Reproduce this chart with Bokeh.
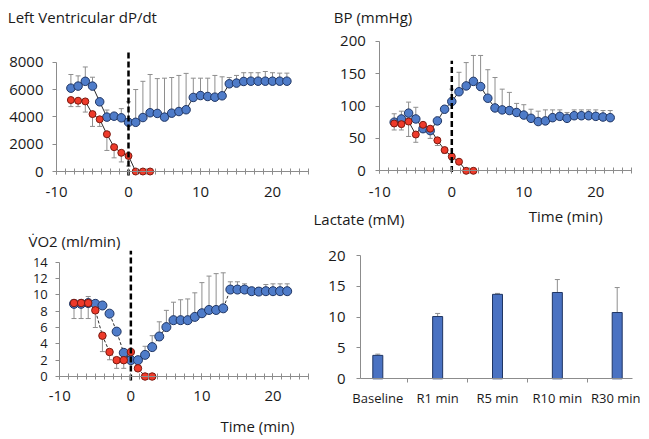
from bokeh.plotting import figure
from bokeh.models import Range1d, FixedTicker, Label
from bokeh.layouts import row, column
from bokeh.embed import file_html
from bokeh.resources import INLINE

# ---------------- data ----------------
time_blue = list(range(-8, 23))
time_red = list(range(-8, 4))

dpdt_blue = [6100, 6250, 6600, 6250, 5100, 3980, 4050, 3930, 3600,
             3600, 3950, 4300, 4250, 3980, 4270, 4390, 4520, 5420, 5560,
             5490, 5440, 5540, 6420, 6470, 6590, 6610, 6610, 6610, 6610, 6610, 6610]
dpdt_blue_hi = [7100, 7000, 7650, 6900, 5100, 4500, 4050, 4600, 5100,
                6000, 6600, 7100, 6800, 6830, 6880, 7030, 7180, 6830, 6830,
                6830, 7030, 6930, 6880, 7030, 7230, 7230, 7230, 7320, 7230, 7200, 7200]
dpdt_red = [5230, 5180, 5130, 4200, 3820, 2730, 1780, 1370, 1140, 0, 0, 0]
dpdt_red_lo = [4750, 4750, 4350, 3300, 3300, 1540, 1000, 700, 400, 0, 0, 0]

bp_blue = [75, 80, 89, 80, 65, 62, 77, 95, 107,
           122, 131, 138, 130, 112, 97, 94, 93, 90, 86,
           81, 76, 77, 82, 84, 81, 85, 85, 85, 84, 83, 82]
bp_blue_hi = [88, 92, 106, 98, 70, 68, 80, 97, 126,
              152, 167, 178, 178, 156, 144, 126, 121, 104, 102,
              95, 92, 94, 94, 94, 90, 94, 94, 94, 94, 93, 93]
bp_red = [73, 72, 76, 56, 71, 65, 47, 32, 22, 14, 0, 0]
bp_red_lo = [63, 63, 53, 44, 60, 50, 39, 27, 17, 14, 0, 0]

vo2_blue = [8.9, 8.9, 9.0, 8.9, 8.7, 7.7, 5.5, 2.9, 2.0,
            2.0, 2.65, 3.6, 4.9, 6.05, 6.9, 6.9, 6.9, 7.3, 7.75,
            8.15, 8.15, 8.35, 10.65, 10.65, 10.65, 10.45, 10.4, 10.45, 10.45, 10.45, 10.45]
vo2_blue_hi = [9.3, 9.3, 9.8, 9.2, 8.9, 7.9, 5.7, 3.2, 2.3,
               2.3, 3.7, 5.0, 6.7, 8.1, 9.1, 9.4, 9.5, 10.25, 11.5,
               12.3, 12.6, 12.7, 11.6, 11.6, 11.35, 10.9, 10.9, 11.27, 11.35, 11.35, 11.35]
vo2_red = [9.0, 9.0, 9.0, 8.1, 5.0, 3.0, 2.0, 2.0, 3.0, 1.0, 0, 0]
vo2_red_lo = [7.1, 7.1, 7.1, 6.0, 3.05, 2.05, 1.0, 1.0, 3.0, 1.0, 0, 0]

lactate_cats = ["Baseline", "R1 min", "R5 min", "R10 min", "R30 min"]
lactate_vals = [3.8, 10.1, 13.7, 14.0, 10.75]
lactate_hi = [4.0, 10.6, 13.85, 16.1, 14.8]

x_major = [-10, 0, 10, 20]
x_major_labels = ["-10", "0", "10", "20"]
x_minor = [-10 + 1.25 * k for k in range(29)]
dpdt_yticks = [0, 2000, 4000, 6000, 8000]
bp_yticks = [0, 50, 100, 150, 200]
vo2_yticks = [0, 2, 4, 6, 8, 10, 12, 14]
lac_yticks = [0, 5, 10, 15, 20]

# vertical dashed marker at t = 0 (data extents)
dpdt_dash = [-290, 8850]
bp_dash = [-2, 170]
vo2_dash = [-0.5, 15.4]

# ---------------- style ----------------
FONT = "Open Sans"
AX = "#8c8c8c"
TXT = "#1a1a1a"
BLUE = "#4f7cc9"
BLUE_LINE = "#1f3563"
RED = "#ee3a2a"
RED_LINE = "#7a1a10"
ERR = "#8e8e8e"
LBL_DY = 4  # baseline correction for labels


def xrange_px(a, pa, b, pb, origin, size):
    scale = (pb - pa) / (b - a)
    start = a - (pa - origin) / scale
    return (start, start + size / scale)


def yrange_px(p0, pm, vmax, origin, size):
    scale = (p0 - pm) / vmax
    start = -(origin + size - p0) / scale
    return (start, start + size / scale)


def base_fig(w, h, xr, yr):
    p = figure(width=w, height=h, x_range=Range1d(*xr), y_range=Range1d(*yr),
               output_backend="svg", toolbar_location=None, tools="", title=None,
               min_border_left=0, min_border_right=0,
               min_border_top=0, min_border_bottom=0)
    p.outline_line_color = None
    p.xgrid.visible = False
    p.ygrid.visible = False
    for ax in (p.xaxis[0], p.yaxis[0]):
        ax.axis_line_color = AX
        ax.major_tick_line_color = AX
        ax.minor_tick_line_color = AX
        ax.major_label_text_font = FONT
        ax.major_label_text_color = TXT
    return p


def style_y(p, ticks, ymax, x_at, size, standoff):
    ax = p.yaxis[0]
    ax.ticker = FixedTicker(ticks=ticks, minor_ticks=[])
    ax.fixed_location = x_at
    ax.bounds = (0, ymax)
    ax.major_tick_in = 0
    ax.major_tick_out = 4
    ax.major_label_text_font_size = size
    ax.major_label_standoff = standoff


def style_time_x(p, size, standoff):
    ax = p.xaxis[0]
    ax.ticker = FixedTicker(ticks=x_major, minor_ticks=x_minor)
    ax.major_label_overrides = {t: s for t, s in zip(x_major, x_major_labels)}
    ax.fixed_location = 0
    ax.bounds = (-10, 25)
    ax.major_tick_in = 3
    ax.major_tick_out = 3
    ax.minor_tick_in = 3
    ax.minor_tick_out = 3
    ax.major_label_text_font_size = size
    ax.major_label_standoff = standoff


def add_label(p, x, y, text, size="15px"):
    p.add_layout(Label(x=x, y=y + LBL_DY, x_units="screen", y_units="screen", text=text,
                       text_font=FONT, text_font_size=size, text_color=TXT,
                       text_baseline="alphabetic", text_align="left"))


def draw_series(p, dash_style, tb, yb, yb_hi, tr, yr_, yr_lo, dash, bsize=8.5, rsize=7):
    p.segment(x0=tb, y0=yb, x1=tb, y1=yb_hi, line_color=ERR, line_width=1)
    p.scatter(tb, yb_hi, marker="dash", size=5, line_color=ERR, line_width=1)
    p.segment(x0=tr, y0=yr_, x1=tr, y1=yr_lo, line_color=ERR, line_width=1)
    p.scatter(tr, yr_lo, marker="dash", size=5, line_color=ERR, line_width=1)
    p.line(tb, yb, line_color="#2b2b2b", line_width=1, line_dash=dash_style)
    p.line(tr, yr_, line_color="#2b2b2b", line_width=1, line_dash=dash_style)
    p.scatter(tb, yb, size=bsize, fill_color=BLUE, line_color=BLUE_LINE, line_width=1)
    p.scatter(tr, yr_, size=rsize, fill_color=RED, line_color=RED_LINE, line_width=1)
    p.segment(x0=[0], y0=[dash[0]], x1=[0], y1=[dash[1]], line_color="black",
              line_width=2.5, line_dash="6 3")


# ---------------- panel 1: dP/dt  (page box x 0..312, y 0..224) ----------------
p1 = base_fig(312, 224, xrange_px(-10, 56, 25, 308, 0, 312),
              yrange_px(171, 61.7, 8000, 0, 224))
style_y(p1, dpdt_yticks, 8000, -10, "15px", 9)
style_time_x(p1, "15px", 12)
draw_series(p1, "solid", time_blue, dpdt_blue, dpdt_blue_hi,
            time_red, dpdt_red, dpdt_red_lo, dpdt_dash)
add_label(p1, 7.3, 224 - 20.7, "Left Ventricular dP/dt")

# ---------------- panel 2: BP  (page box x 312..640, y 0..228) ----------------
p2 = base_fig(328, 228, xrange_px(-10, 379.3, 25, 631.3, 312, 328),
              yrange_px(170.3, 40.7, 200, 0, 228))
style_y(p2, bp_yticks, 200, -10, "15px", 10)
style_time_x(p2, "15px", 13)
draw_series(p2, "solid", time_blue, bp_blue, bp_blue_hi,
            time_red, bp_red, bp_red_lo, bp_dash)
add_label(p2, 333.3 - 312, 228 - 20.7, "BP (mmHg)")
add_label(p2, 528.3 - 312, 228 - 219, "Time (min)")
add_label(p2, 1, 228 - 222.7, "Lactate (mM)")

# ---------------- panel 3: VO2  (page box x 0..312, y 224..439) ----------------
p3 = base_fig(312, 215, xrange_px(-10, 59.3, 25, 308, 0, 312),
              yrange_px(376, 261.7, 14, 224, 215))
style_y(p3, vo2_yticks, 14, -10, "13px", 8)
style_time_x(p3, "15px", 11)
draw_series(p3, "3 2", time_blue, vo2_blue, vo2_blue_hi,
            time_red, vo2_red, vo2_red_lo, vo2_dash, bsize=9, rsize=7.5)
add_label(p3, 28, 439 - 244, "V\u0307O2 (ml/min)")
add_label(p3, 220, 439 - 429, "Time (min)")

# ---------------- panel 4: Lactate  (page box x 312..640, y 228..439) ----------------
lac_x = list(range(len(lactate_cats)))
p4 = base_fig(328, 211, xrange_px(0, 377.3, 4, 616.7, 312, 328),
              yrange_px(378.3, 255, 20, 228, 211))
x4_left = (360 - 377.3) / ((616.7 - 377.3) / 4)
x4_right = (631.7 - 377.3) / ((616.7 - 377.3) / 4)
style_y(p4, lac_yticks, 20, x4_left, "15px", 11)
ax4 = p4.xaxis[0]
ax4.ticker = FixedTicker(ticks=lac_x, minor_ticks=[i + 0.5 for i in lac_x[:-1]])
ax4.fixed_location = 0
ax4.bounds = (x4_left, x4_right)
ax4.major_tick_in = 0
ax4.major_tick_out = 0
ax4.minor_tick_in = 0
ax4.minor_tick_out = 4
ax4.major_label_overrides = {i: c for i, c in zip(lac_x, lactate_cats)}
ax4.major_label_text_font_size = "13px"
ax4.major_label_standoff = 6
p4.segment(x0=lac_x, y0=lactate_vals, x1=lac_x, y1=lactate_hi, line_color=ERR, line_width=1)
p4.scatter(lac_x, lactate_hi, marker="dash", size=5, line_color=ERR, line_width=1)
p4.vbar(x=lac_x, top=lactate_vals, bottom=0, width=0.167,
        fill_color="#4a72c2", line_color="#1f3563", line_width=1)

layout = row(column(p1, p3), column(p2, p4))
open("out.html", "w").write(file_html(layout, INLINE))
